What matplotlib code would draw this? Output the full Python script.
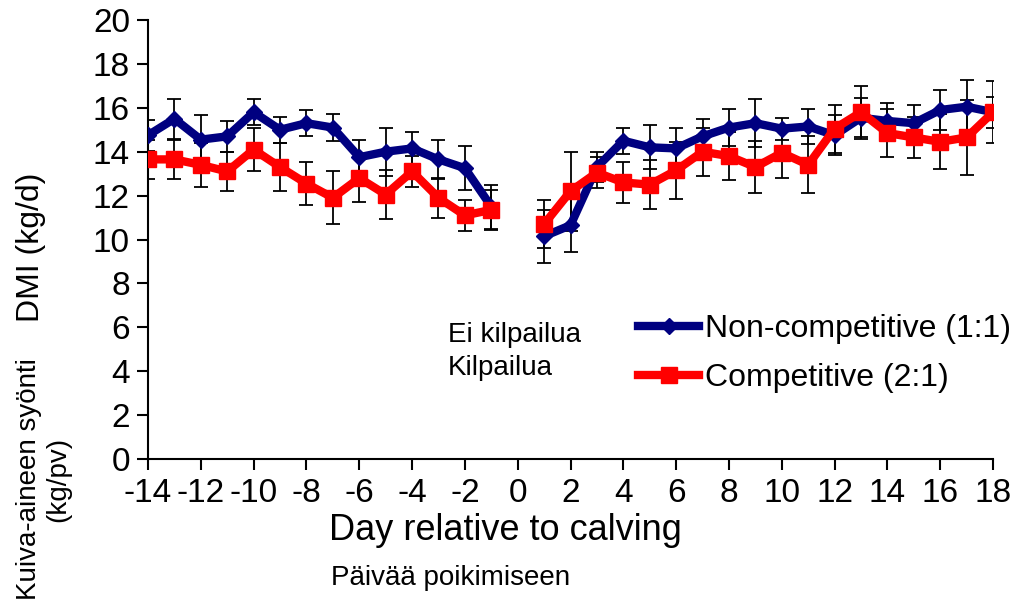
import matplotlib
matplotlib.use('Agg')
import matplotlib.pyplot as plt
import numpy as np

plt.rcParams['font.family'] = ['Liberation Sans', 'DejaVu Sans']
plt.rcParams['axes.unicode_minus'] = False

days_pre = list(range(-14, 0))
days_post = list(range(1, 19))

# Non-competitive (1:1)
nc_pre = [14.75, 15.5, 14.55, 14.7, 15.8, 15.0, 15.3, 15.1, 13.75, 14.0, 14.15, 13.65, 13.25, 11.5]
nc_pre_err = [0.7, 0.9, 1.1, 0.7, 0.6, 0.6, 0.6, 0.6, 0.8, 1.1, 0.75, 0.9, 1.0, 1.0]
nc_post = [10.15, 10.65, 13.3, 14.5, 14.2, 14.15, 14.7, 15.1, 15.3, 15.05, 15.15, 14.75, 15.55, 15.4, 15.3, 15.9, 16.05, 15.8]
nc_post_err = [1.2, 1.2, 0.7, 0.6, 1.0, 0.95, 0.8, 0.85, 1.1, 0.5, 0.8, 0.9, 0.9, 0.8, 0.85, 0.9, 1.2, 0.7]

# Competitive (2:1)
c_pre = [13.65, 13.65, 13.4, 13.1, 14.1, 13.3, 12.55, 11.9, 12.8, 12.05, 13.1, 11.9, 11.1, 11.35]
c_pre_err = [0.9, 0.9, 1.0, 0.9, 1.0, 1.1, 1.0, 1.2, 1.1, 1.1, 0.7, 0.9, 0.7, 0.9]
c_post = [10.7, 12.2, 13.05, 12.6, 12.5, 13.15, 14.0, 13.8, 13.3, 13.95, 13.4, 15.05, 15.8, 14.85, 14.65, 14.45, 14.65, 15.8]
c_post_err = [1.1, 1.8, 0.7, 0.95, 1.1, 1.3, 1.1, 1.1, 1.2, 1.15, 1.3, 1.1, 1.2, 1.1, 0.95, 1.25, 1.7, 1.4]

BLUE = '#000080'
RED = '#FF0000'

fig = plt.figure(figsize=(10.30, 5.99), dpi=100)
ax = fig.add_axes([0.1437, 0.2337, 0.8204, 0.7329])

for days, vals, errs in [(days_pre, nc_pre, nc_pre_err), (days_post, nc_post, nc_post_err),
                         (days_pre, c_pre, c_pre_err), (days_post, c_post, c_post_err)]:
    ax.errorbar(days, vals, yerr=errs, fmt='none', ecolor='black', elinewidth=1.3,
                capsize=5, capthick=1.3, zorder=2)

ax.plot(days_pre, nc_pre, color=BLUE, lw=6, marker='D', ms=8, mfc=BLUE, mec=BLUE,
        zorder=3, label='Non-competitive (1:1)')
ax.plot(days_post, nc_post, color=BLUE, lw=6, marker='D', ms=8, mfc=BLUE, mec=BLUE, zorder=3)
ax.plot(days_pre, c_pre, color=RED, lw=6, marker='s', ms=12, mfc=RED, mec=RED,
        zorder=4, label='Competitive (2:1)')
ax.plot(days_post, c_post, color=RED, lw=6, marker='s', ms=12, mfc=RED, mec=RED, zorder=4)

ax.set_xlim(-14, 18)
ax.set_ylim(0, 20)
ax.set_xticks(np.arange(-14, 19, 2))
ax.set_yticks(np.arange(0, 21, 2))
ax.spines['top'].set_visible(False)
ax.spines['right'].set_visible(False)
for s in ['left', 'bottom']:
    ax.spines[s].set_linewidth(1.5)
    ax.spines[s].set_clip_on(False)
ax.tick_params(axis='both', direction='out', length=8, width=1.5, labelsize=24, pad=5)
ax.tick_params(axis='x', pad=6)

leg = ax.legend(loc='upper left', bbox_to_anchor=(0.565, 0.36), frameon=False,
                fontsize=23, handlelength=1.9, handletextpad=0.2, labelspacing=0.6,
                borderaxespad=0)

fig.text(0.491, 0.115, 'Day relative to calving', fontsize=26, ha='center', va='center')
fig.text(0.03, 0.587, 'DMI (kg/d)', fontsize=23, rotation=90, ha='center', va='center')
fig.text(0.042, 0.2, 'Kuiva-aineen syönti\n(kg/pv)', fontsize=20, rotation=90,
         ha='center', va='center', linespacing=1.15)
fig.text(0.437, 0.035, 'Päivää poikimiseen', fontsize=20, ha='center', va='center')
fig.text(0.435, 0.44, 'Ei kilpailua', fontsize=20, ha='left', va='center')
fig.text(0.435, 0.385, 'Kilpailua', fontsize=20, ha='left', va='center')

fig.savefig('out.png', dpi=100)
